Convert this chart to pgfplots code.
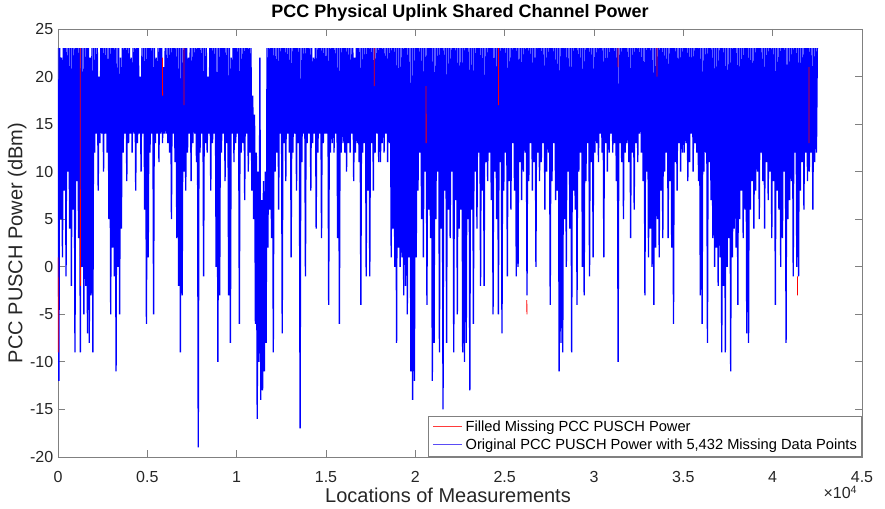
\documentclass[border=0pt]{standalone}
\usepackage{fontspec}
\setmainfont{Liberation Sans}
\usepackage{pgfplots}
\pgfplotsset{compat=1.18}
\usepackage{pgfplotstable}
\usetikzlibrary{calc}
\definecolor{tickgray}{HTML}{262626}
\definecolor{legblue}{HTML}{5A4CF5}
\definecolor{legred}{HTML}{FF3B3B}

\pgfplotstableread[row sep=\\]{p\\%
23\\-12\\23\\5\\22\\1\\23\\8\\23\\-1\\23\\10\\23\\4\\23\\-2\\23\\6\\23\\-9\\%
23\\9\\23\\3\\23\\-9\\23\\0\\23\\-5\\23\\-2\\23\\-7\\23\\-8\\22\\-3\\23\\-9\\%
23\\12\\23\\14\\23\\8\\20\\13\\23\\14\\23\\10\\23\\14\\23\\12\\23\\5\\23\\-5\\%
23\\2\\23\\-1\\23\\-11\\23\\0\\23\\-5\\22\\4\\23\\12\\23\\14\\23\\9\\23\\13\\%
23\\14\\22\\12\\23\\14\\23\\8\\23\\13\\23\\14\\20\\10\\23\\14\\23\\6\\23\\-6\\%
23\\1\\23\\12\\23\\14\\23\\-5\\23\\13\\22\\14\\23\\11\\23\\14\\23\\13\\21\\14\\%
23\\14\\23\\13\\23\\12\\23\\5\\23\\14\\23\\11\\23\\3\\23\\-2\\23\\-9\\23\\-3\\%
23\\10\\23\\8\\23\\12\\22\\14\\23\\9\\23\\13\\23\\14\\23\\11\\23\\-19\\23\\12\\%
23\\14\\23\\-1\\23\\13\\23\\12\\20\\14\\23\\8\\23\\13\\23\\14\\23\\0\\23\\-10\\%
23\\-3\\23\\12\\23\\14\\23\\9\\23\\13\\23\\-3\\23\\-8\\22\\14\\23\\11\\23\\13\\%
23\\14\\23\\-6\\23\\12\\23\\13\\23\\7\\23\\14\\23\\10\\23\\12\\23\\8\\18\\5\\%
16\\-6\\12\\-16\\10\\-10\\22\\-14\\7\\-13\\9\\-11\\10\\-8\\23\\2\\23\\6\\23\\3\\%
23\\-9\\23\\10\\23\\12\\23\\6\\23\\14\\23\\-7\\23\\13\\23\\9\\23\\14\\23\\12\\%
23\\1\\23\\12\\23\\14\\23\\8\\23\\13\\23\\-17\\23\\11\\23\\14\\23\\-1\\23\\13\\%
23\\14\\23\\8\\23\\13\\22\\14\\23\\4\\23\\12\\23\\14\\23\\3\\23\\13\\23\\14\\%
23\\14\\23\\-4\\23\\12\\23\\13\\23\\12\\23\\14\\23\\3\\23\\-6\\23\\12\\23\\13\\%
23\\12\\23\\10\\23\\13\\23\\12\\23\\14\\23\\9\\22\\12\\23\\13\\23\\11\\23\\-4\\%
23\\12\\23\\13\\23\\-1\\23\\8\\23\\-1\\23\\13\\23\\8\\23\\12\\23\\14\\23\\11\\%
23\\11\\23\\13\\23\\12\\23\\14\\23\\11\\23\\13\\23\\1\\23\\4\\23\\0\\23\\-8\\%
23\\2\\23\\0\\23\\1\\23\\-3\\23\\-2\\23\\-5\\23\\1\\23\\-11\\23\\-14\\23\\-12\\%
23\\1\\23\\8\\23\\12\\23\\5\\23\\1\\23\\10\\23\\-4\\23\\6\\23\\3\\23\\-12\\%
23\\-8\\23\\5\\23\\10\\23\\-9\\23\\4\\23\\-15\\23\\8\\23\\-8\\23\\6\\23\\3\\%
23\\10\\23\\-9\\23\\7\\23\\-5\\23\\4\\23\\6\\23\\-9\\23\\-10\\23\\-8\\23\\5\\%
23\\-13\\23\\6\\23\\-6\\23\\10\\23\\4\\23\\12\\23\\-2\\23\\8\\23\\-2\\23\\11\\%
23\\9\\23\\12\\23\\7\\23\\-5\\23\\10\\23\\5\\23\\-5\\23\\11\\23\\-7\\23\\8\\%
23\\12\\23\\-1\\23\\9\\23\\6\\23\\13\\23\\8\\23\\-1\\23\\0\\23\\11\\23\\7\\%
23\\10\\23\\12\\23\\-3\\23\\9\\23\\13\\23\\8\\23\\11\\23\\0\\23\\12\\23\\9\\%
23\\11\\23\\13\\23\\6\\23\\10\\23\\12\\23\\-4\\23\\9\\23\\13\\23\\7\\23\\8\\%
23\\-11\\23\\-8\\23\\-9\\23\\5\\23\\0\\23\\10\\23\\4\\23\\-9\\23\\8\\23\\6\\%
23\\-4\\23\\10\\23\\12\\23\\0\\23\\-3\\23\\9\\23\\13\\23\\-1\\23\\11\\23\\1\\%
23\\12\\23\\13\\23\\11\\23\\14\\23\\12\\23\\1\\23\\13\\23\\10\\23\\12\\23\\14\\%
23\\12\\23\\13\\23\\9\\23\\-10\\23\\13\\23\\11\\23\\5\\23\\12\\23\\13\\23\\11\\%
23\\3\\23\\12\\23\\6\\23\\13\\23\\11\\23\\14\\23\\12\\23\\9\\23\\-3\\23\\10\\%
23\\1\\23\\4\\23\\0\\23\\-4\\23\\2\\23\\5\\23\\1\\23\\8\\23\\3\\23\\10\\%
23\\12\\23\\3\\23\\9\\23\\2\\23\\-6\\23\\11\\23\\8\\23\\13\\23\\10\\23\\12\\%
23\\12\\23\\13\\23\\9\\23\\11\\23\\14\\23\\10\\23\\13\\23\\12\\23\\9\\23\\-3\\%
23\\-6\\23\\10\\23\\12\\23\\-8\\23\\11\\23\\7\\23\\3\\23\\0\\23\\2\\23\\-2\\%
23\\1\\23\\-9\\23\\-2\\23\\-9\\23\\0\\23\\3\\23\\-11\\23\\1\\23\\4\\23\\2\\%
23\\-4\\23\\5\\23\\8\\23\\3\\23\\6\\23\\-7\\23\\-8\\23\\6\\23\\9\\23\\4\\%
23\\8\\23\\10\\23\\5\\23\\12\\23\\9\\23\\4\\23\\11\\23\\7\\23\\10\\23\\3\\%
23\\9\\23\\-4\\23\\8\\23\\6\\23\\0\\23\\3\\23\\10\\23\\-8\\23\\5\\23\\7\\%
23\\9\\23\\-1\\23\\12\\23\\0\\23\\-1\\23\\8\\23\\11\\23\\6\\23\\12\\23\\9\\%
23\\10\\23\\12\\23\\6\\23\\11\\23\\12\\23\\%
}\pusch

\begin{document}
\begin{tikzpicture}
\begin{axis}[
  scale only axis,
  width=603pt, height=321pt,
  xmin=0, xmax=45000, ymin=-20, ymax=25,
  xtick={0,5000,10000,15000,20000,25000,30000,35000,40000,45000},
  xticklabels={0,0.5,1,1.5,2,2.5,3,3.5,4,4.5},
  scaled x ticks=false,
  ytick={-20,-15,...,25},
  tick align=inside, tick pos=both,
  major tick length=5.5pt,
  axis line style={draw=black!50, line width=0.6pt},
  every tick/.style={draw=black!50, line width=0.6pt},
  /pgf/number format/assume math mode=true,
  tick label style={font=\fontsize{12}{14}\selectfont, text=tickgray},
  xticklabel style={yshift=-7pt},
  title={PCC Physical Uplink Shared Channel Power},
  title style={font=\fontsize{13.5}{15}\selectfont\bfseries, yshift=-4pt},
  xlabel={Locations of Measurements},
  ylabel={PCC PUSCH Power (dBm)},
  label style={font=\fontsize{15}{17}\selectfont, text=tickgray},
  xlabel style={at={(axis description cs:0.5,0)}, anchor=north, yshift=-20pt, xshift=-9pt},
  ylabel style={at={(axis description cs:0,0.5)}, anchor=south, yshift=20pt},
  legend style={at={(rel axis cs:1,0)}, anchor=south east, draw=black!50, line width=0.6pt,
    fill=white, font=\fontsize{11}{13}\selectfont, inner sep=1.5pt, nodes={inner sep=2pt},
    cells={anchor=west}, column sep=0pt},
  legend image code/.code={},
  reverse legend,
  unbounded coords=jump,
]
\addplot[color=blue, line width=1pt, line join=bevel]
  table[x expr=\coordindex*50, y=p] {\pusch};
\addlegendentry{\textcolor{legblue}{\rule[0.32em]{22pt}{0.7pt}}\hspace{2.5pt}Original PCC PUSCH Power with 5,432 Missing Data Points}
\addplot[color=red, line width=0.6pt]
  coordinates {
  (5,1)(8,-9)(9,nan)
  (1245,23)(1255,-2)(1256,nan)
  (5850,22)(5855,18)(5856,nan)
  (7050,23)(7055,17)(7056,nan)
  (17700,23)(17705,19)(17706,nan)
  (20600,19)(20605,13)(20606,nan)
  (24650,23)(24655,17)(24656,nan)
  (26240,-3.5)(26245,-5)(26246,nan)
  (31340,23)(31345,21)(31346,nan)
  (33520,23)(33525,20)(33526,nan)
  (41385,-1)(41390,-3)(41391,nan)
  (42030,21)(42035,13)
};
\addlegendentry{\textcolor{legred}{\rule[0.32em]{22pt}{0.7pt}}\hspace{2.5pt}Filled Missing PCC PUSCH Power}
\end{axis}
\node[anchor=north east, font=\fontsize{12}{14}\selectfont, text=tickgray] at ($(current axis.south east)+(0,-18pt)$) {×10\textsuperscript{4}};
\pgfresetboundingbox
\path[use as bounding box] ($(current axis.south west)+(-43.5pt,-39pt)$) rectangle ($(current axis.north east)+(17.25pt,21.75pt)$);
\end{tikzpicture}
\end{document}
